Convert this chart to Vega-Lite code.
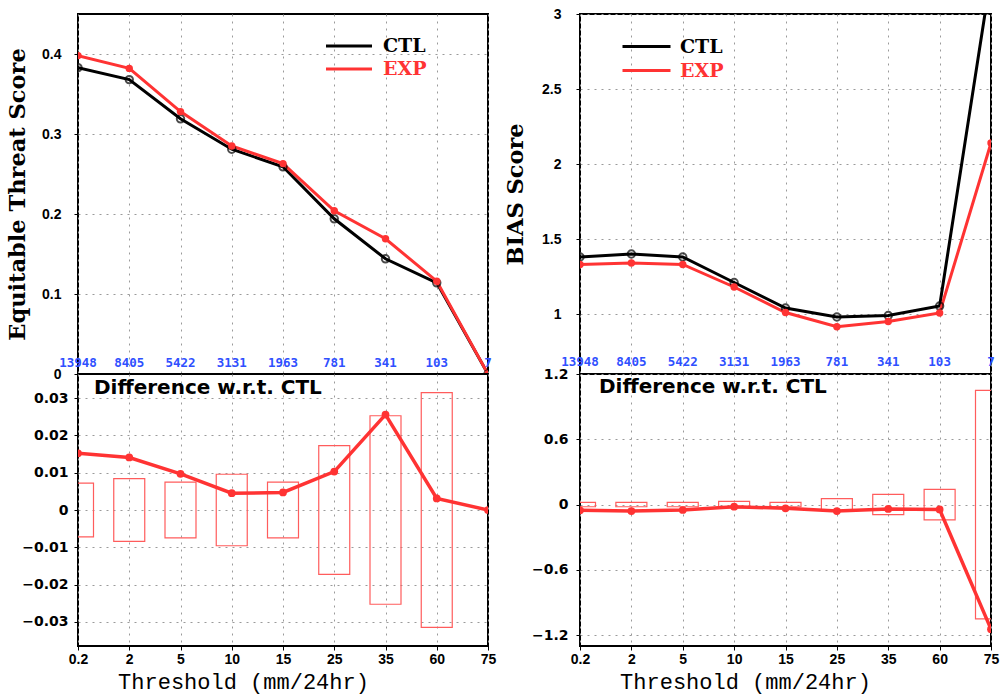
{
  "$schema": "https://vega.github.io/schema/vega-lite/v6.json",
  "background": "white",
  "padding": {"left": 5, "top": 6, "right": 5, "bottom": 6},
  "columns": 2,
  "spacing": {"row": 0, "column": 92},
  "bounds": "flush",
  "resolve": {"scale": {"color": "independent"}, "legend": {"color": "independent"}},
  "datasets": {
    "ets": [
      {"thr": "0.2", "run": "CTL", "v": 0.383}, {"thr": "2", "run": "CTL", "v": 0.368}, {"thr": "5", "run": "CTL", "v": 0.319},
      {"thr": "10", "run": "CTL", "v": 0.281}, {"thr": "15", "run": "CTL", "v": 0.259}, {"thr": "25", "run": "CTL", "v": 0.194},
      {"thr": "35", "run": "CTL", "v": 0.144}, {"thr": "60", "run": "CTL", "v": 0.114}, {"thr": "75", "run": "CTL", "v": 0},
      {"thr": "0.2", "run": "EXP", "v": 0.398}, {"thr": "2", "run": "EXP", "v": 0.382}, {"thr": "5", "run": "EXP", "v": 0.328},
      {"thr": "10", "run": "EXP", "v": 0.285}, {"thr": "15", "run": "EXP", "v": 0.263}, {"thr": "25", "run": "EXP", "v": 0.204},
      {"thr": "35", "run": "EXP", "v": 0.169}, {"thr": "60", "run": "EXP", "v": 0.116}, {"thr": "75", "run": "EXP", "v": 0}
    ],
    "etsd": [
      {"thr": "0.2", "d": 0.0152}, {"thr": "2", "d": 0.0141}, {"thr": "5", "d": 0.0097}, {"thr": "10", "d": 0.0045},
      {"thr": "15", "d": 0.0047}, {"thr": "25", "d": 0.0103}, {"thr": "35", "d": 0.0256}, {"thr": "60", "d": 0.0031}, {"thr": "75", "d": 0}
    ],
    "etsci": [
      {"thr": "0.2", "lo": -0.0072, "hi": 0.0072}, {"thr": "2", "lo": -0.0084, "hi": 0.0084}, {"thr": "5", "lo": -0.0075, "hi": 0.0075},
      {"thr": "10", "lo": -0.0096, "hi": 0.0096}, {"thr": "15", "lo": -0.0075, "hi": 0.0075}, {"thr": "25", "lo": -0.0173, "hi": 0.0173},
      {"thr": "35", "lo": -0.0253, "hi": 0.0253}, {"thr": "60", "lo": -0.0315, "hi": 0.0315}
    ],
    "bias": [
      {"thr": "0.2", "run": "CTL", "v": 1.38}, {"thr": "2", "run": "CTL", "v": 1.40}, {"thr": "5", "run": "CTL", "v": 1.38},
      {"thr": "10", "run": "CTL", "v": 1.21}, {"thr": "15", "run": "CTL", "v": 1.04}, {"thr": "25", "run": "CTL", "v": 0.98},
      {"thr": "35", "run": "CTL", "v": 0.99}, {"thr": "60", "run": "CTL", "v": 1.053}, {"thr": "75", "run": "CTL", "v": 3.26},
      {"thr": "0.2", "run": "EXP", "v": 1.33}, {"thr": "2", "run": "EXP", "v": 1.34}, {"thr": "5", "run": "EXP", "v": 1.33},
      {"thr": "10", "run": "EXP", "v": 1.18}, {"thr": "15", "run": "EXP", "v": 1.01}, {"thr": "25", "run": "EXP", "v": 0.915},
      {"thr": "35", "run": "EXP", "v": 0.95}, {"thr": "60", "run": "EXP", "v": 1.007}, {"thr": "75", "run": "EXP", "v": 2.14}
    ],
    "biasd": [
      {"thr": "0.2", "d": -0.053}, {"thr": "2", "d": -0.06}, {"thr": "5", "d": -0.05}, {"thr": "10", "d": -0.02},
      {"thr": "15", "d": -0.035}, {"thr": "25", "d": -0.06}, {"thr": "35", "d": -0.04}, {"thr": "60", "d": -0.045}, {"thr": "75", "d": -1.145}
    ],
    "biasci": [
      {"thr": "0.2", "lo": -0.02, "hi": 0.02}, {"thr": "2", "lo": -0.02, "hi": 0.02}, {"thr": "5", "lo": -0.02, "hi": 0.02},
      {"thr": "10", "lo": -0.03, "hi": 0.03}, {"thr": "15", "lo": -0.02, "hi": 0.02}, {"thr": "25", "lo": -0.055, "hi": 0.055},
      {"thr": "35", "lo": -0.093, "hi": 0.093}, {"thr": "60", "lo": -0.14, "hi": 0.14}, {"thr": "75", "lo": -1.05, "hi": 1.05}
    ],
    "counts": [
      {"thr": "0.2", "n": "13948"}, {"thr": "2", "n": "8405"}, {"thr": "5", "n": "5422"}, {"thr": "10", "n": "3131"},
      {"thr": "15", "n": "1963"}, {"thr": "25", "n": "781"}, {"thr": "35", "n": "341"}, {"thr": "60", "n": "103"}, {"thr": "75", "n": "7"}
    ]
  },
  "concat": [
    {
      "width": 410, "height": 360,
      "layer": [
        {
          "data": {"name": "ets"},
          "mark": {"type": "line", "strokeWidth": 3, "clip": true},
          "encoding": {
            "x": {"field": "thr", "type": "ordinal", "sort": null, "scale": {"type": "point", "padding": 0, "domain": ["0.2", "2", "5", "10", "15", "25", "35", "60", "75"]}, "axis": {"labels": false, "ticks": false, "domain": false, "title": null}},
            "y": {"field": "v", "type": "quantitative", "scale": {"domain": [0, 0.45], "nice": false}, "axis": {"title": "Equitable Threat Score", "titleFontSize": 22.5, "values": [0, 0.1, 0.2, 0.3, 0.4], "format": ".2~g", "labelPadding": 13, "titlePadding": 12}},
            "color": {"field": "run", "type": "nominal", "scale": {"domain": ["CTL", "EXP"], "range": ["#000000", "#ff3333"]},
              "legend": {"orient": "none", "legendX": 258, "legendY": 19, "title": null, "symbolType": "M-2,0L2,0", "symbolSize": 529, "symbolStrokeWidth": 3, "labelFont": "DejaVu Serif", "labelFontWeight": "bold", "labelFontSize": 19, "labelOffset": 21, "rowPadding": 0,
                "encode": {"labels": {"update": {"fill": {"signal": "datum.value === 'EXP' ? '#ff3333' : '#000000'"}}}}}}
          }
        },
        {
          "data": {"name": "ets"},
          "transform": [{"filter": "datum.run === 'CTL'"}],
          "mark": {"type": "point", "shape": "circle", "filled": false, "size": 55, "strokeWidth": 2, "color": "#000000", "clip": true},
          "encoding": {"x": {"field": "thr", "type": "ordinal", "sort": null}, "y": {"field": "v", "type": "quantitative"}}
        },
        {
          "data": {"name": "ets"},
          "transform": [{"filter": "datum.run === 'EXP'"}],
          "mark": {"type": "point", "shape": "circle", "filled": true, "opacity": 1, "size": 55, "color": "#ff3333", "clip": true},
          "encoding": {"x": {"field": "thr", "type": "ordinal", "sort": null}, "y": {"field": "v", "type": "quantitative"}}
        },
        {
          "data": {"name": "counts"},
          "mark": {"type": "text", "font": "DejaVu Sans Mono", "fontWeight": "bold", "fontSize": 12.5, "color": "#2f50ff", "align": "center", "baseline": "middle"},
          "encoding": {"x": {"field": "thr", "type": "ordinal", "sort": null}, "y": {"datum": 0.0138}, "text": {"field": "n"}}
        }
      ]
    },
    {
      "width": 411, "height": 360,
      "layer": [
        {
          "data": {"name": "bias"},
          "mark": {"type": "line", "strokeWidth": 3, "clip": true},
          "encoding": {
            "x": {"field": "thr", "type": "ordinal", "sort": null, "scale": {"type": "point", "padding": 0, "domain": ["0.2", "2", "5", "10", "15", "25", "35", "60", "75"]}, "axis": {"labels": false, "ticks": false, "domain": false, "title": null}},
            "y": {"field": "v", "type": "quantitative", "scale": {"domain": [0.6, 3], "nice": false}, "axis": {"title": "BIAS Score", "titleFontSize": 22.5, "values": [1, 1.5, 2, 2.5, 3], "format": ".2~g", "labelPadding": 15, "titlePadding": 14}},
            "color": {"field": "run", "type": "nominal", "scale": {"domain": ["CTL", "EXP"], "range": ["#000000", "#ff3333"]},
              "legend": {"orient": "none", "legendX": 53, "legendY": 19, "title": null, "symbolType": "M-2,0L2,0", "symbolSize": 576, "symbolStrokeWidth": 3, "labelFont": "DejaVu Serif", "labelFontWeight": "bold", "labelFontSize": 19, "labelOffset": 20, "rowPadding": 0,
                "encode": {"labels": {"update": {"fill": {"signal": "datum.value === 'EXP' ? '#ff3333' : '#000000'"}}}}}}
          }
        },
        {
          "data": {"name": "bias"},
          "transform": [{"filter": "datum.run === 'CTL'"}],
          "mark": {"type": "point", "shape": "circle", "filled": false, "size": 55, "strokeWidth": 2, "color": "#000000", "clip": true},
          "encoding": {"x": {"field": "thr", "type": "ordinal", "sort": null}, "y": {"field": "v", "type": "quantitative"}}
        },
        {
          "data": {"name": "bias"},
          "transform": [{"filter": "datum.run === 'EXP'"}],
          "mark": {"type": "point", "shape": "circle", "filled": true, "opacity": 1, "size": 55, "color": "#ff3333", "clip": true},
          "encoding": {"x": {"field": "thr", "type": "ordinal", "sort": null}, "y": {"field": "v", "type": "quantitative"}}
        },
        {
          "data": {"name": "counts"},
          "mark": {"type": "text", "font": "DejaVu Sans Mono", "fontWeight": "bold", "fontSize": 12.5, "color": "#2f50ff", "align": "center", "baseline": "middle"},
          "encoding": {"x": {"field": "thr", "type": "ordinal", "sort": null}, "y": {"datum": 0.68}, "text": {"field": "n"}}
        }
      ]
    },
    {
      "width": 410, "height": 272,
      "layer": [
        {
          "data": {"name": "etsci"},
          "mark": {"type": "bar", "width": 31, "filled": false, "color": "#ff5c5c", "strokeWidth": 1.2, "clip": true},
          "encoding": {
            "x": {"field": "thr", "type": "ordinal", "sort": null, "scale": {"type": "point", "padding": 0, "domain": ["0.2", "2", "5", "10", "15", "25", "35", "60", "75"]},
              "axis": {"title": "Threshold (mm/24hr)", "labelAngle": 0, "titleX": 165, "titleFont": "Liberation Mono", "titleFontSize": 22, "titleFontWeight": "normal", "titlePadding": 5, "labelPadding": 2}},
            "y": {"field": "lo", "type": "quantitative", "scale": {"domain": [-0.0365, 0.0365], "nice": false}, "axis": {"title": null, "values": [-0.03, -0.02, -0.01, 0, 0.01, 0.02, 0.03], "format": ".2~g", "labelFont": "DejaVu Sans", "labelPadding": 6}},
            "y2": {"field": "hi"}
          }
        },
        {
          "mark": {"type": "rule", "color": "#000000", "strokeWidth": 1.5, "strokeDash": [7, 4]},
          "encoding": {"y": {"datum": 0}}
        },
        {
          "data": {"name": "etsd"},
          "mark": {"type": "line", "strokeWidth": 3.5, "color": "#ff3333", "clip": true, "point": {"filled": true, "size": 60, "color": "#ff3333", "opacity": 1}},
          "encoding": {"x": {"field": "thr", "type": "ordinal", "sort": null}, "y": {"field": "d", "type": "quantitative"}}
        },
        {
          "data": {"values": [{"t": "Difference w.r.t. CTL"}]},
          "mark": {"type": "text", "font": "DejaVu Sans", "fontWeight": "bold", "fontSize": 20, "align": "left", "baseline": "middle", "dx": 16, "color": "#000000"},
          "encoding": {"x": {"datum": "0.2"}, "y": {"datum": 0.0328}, "text": {"field": "t"}}
        }
      ]
    },
    {
      "width": 411, "height": 272,
      "layer": [
        {
          "data": {"name": "biasci"},
          "mark": {"type": "bar", "width": 31, "filled": false, "color": "#ff5c5c", "strokeWidth": 1.2, "clip": true},
          "encoding": {
            "x": {"field": "thr", "type": "ordinal", "sort": null, "scale": {"type": "point", "padding": 0, "domain": ["0.2", "2", "5", "10", "15", "25", "35", "60", "75"]},
              "axis": {"title": "Threshold (mm/24hr)", "labelAngle": 0, "titleX": 165, "titleFont": "Liberation Mono", "titleFontSize": 22, "titleFontWeight": "normal", "titlePadding": 5, "labelPadding": 2}},
            "y": {"field": "lo", "type": "quantitative", "scale": {"domain": [-1.3, 1.2], "nice": false}, "axis": {"title": null, "values": [-1.2, -0.6, 0, 0.6, 1.2], "format": ".2~g", "labelFont": "DejaVu Sans", "labelPadding": 8}},
            "y2": {"field": "hi"}
          }
        },
        {
          "mark": {"type": "rule", "color": "#000000", "strokeWidth": 1.5, "strokeDash": [7, 4]},
          "encoding": {"y": {"datum": 0}}
        },
        {
          "data": {"name": "biasd"},
          "mark": {"type": "line", "strokeWidth": 3.5, "color": "#ff3333", "clip": true, "point": {"filled": true, "size": 60, "color": "#ff3333", "opacity": 1}},
          "encoding": {"x": {"field": "thr", "type": "ordinal", "sort": null}, "y": {"field": "d", "type": "quantitative"}}
        },
        {
          "data": {"values": [{"t": "Difference w.r.t. CTL"}]},
          "mark": {"type": "text", "font": "DejaVu Sans", "fontWeight": "bold", "fontSize": 20, "align": "left", "baseline": "middle", "dx": 19, "color": "#000000"},
          "encoding": {"x": {"datum": "0.2"}, "y": {"datum": 1.08}, "text": {"field": "t"}}
        }
      ]
    }
  ],
  "config": {
    "view": {"stroke": "#000000", "strokeWidth": 2},
    "axis": {
      "grid": true, "gridDash": [2, 5], "gridColor": "#9a9a9a", "gridWidth": 1,
      "domain": false, "ticks": true, "tickSize": 4, "tickColor": "#000000",
      "labelFont": "Liberation Sans", "labelFontWeight": "bold", "labelFontSize": 14, "labelColor": "#000000",
      "titleFont": "DejaVu Serif", "titleFontWeight": "bold", "titleFontSize": 21, "titleColor": "#000000",
      "labelOverlap": false
    }
  }
}
